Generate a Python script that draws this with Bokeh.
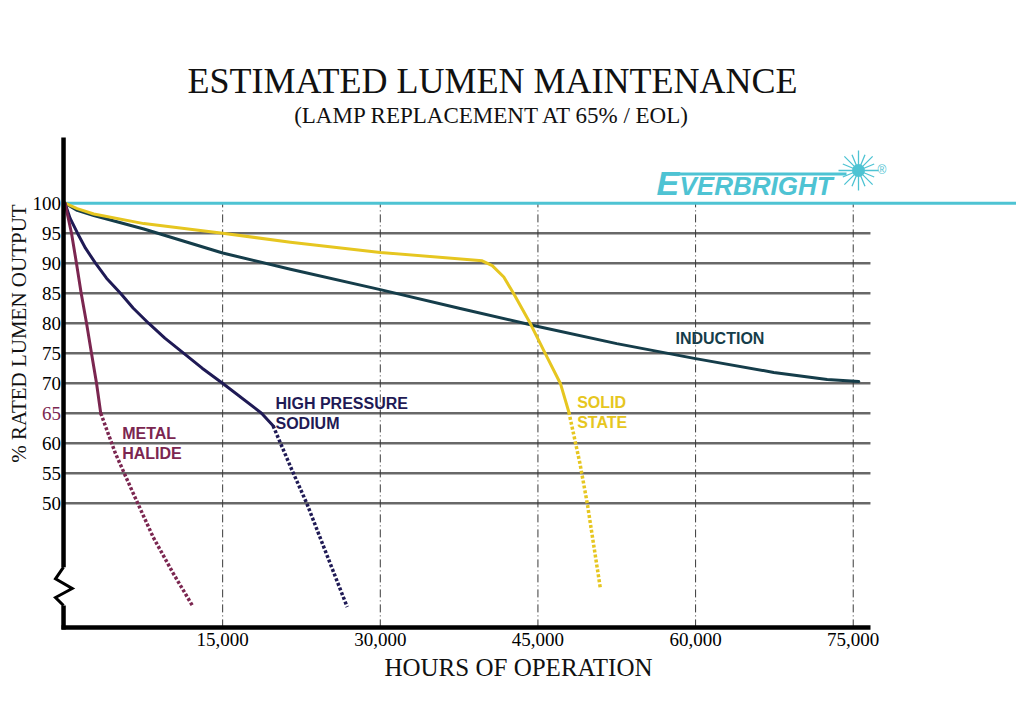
import math
from bokeh.plotting import figure
from bokeh.models import (LinearAxis, FixedTicker, NumeralTickFormatter, Label,
                          Range1d, Grid)
from bokeh.embed import file_html
from bokeh.resources import INLINE

# ---------------- data ----------------
x_ticks = [15000, 30000, 45000, 60000, 75000]
y_ticks = [50, 55, 60, 70, 75, 80, 85, 90, 95, 100]
y_tick_replace = [65]
grid_levels = [50, 55, 60, 65, 70, 75, 80, 85, 90, 95]
reference_pct = 100

mh_hours = [0, 620, 1090, 1540, 2050, 2520, 3000, 3400]
mh_pct = [100, 95, 90, 85, 80, 75, 70, 65]
mh_eol_hours = [3400, 4800, 6500, 8400, 10300, 12100]
mh_eol_pct = [65, 58.3, 51.6, 44.3, 38.3, 33.0]

hps_hours = [0, 480, 1190, 1950, 2900, 3950, 5280, 6500, 7950, 9500, 11280,
             13050, 14990, 18700, 19800]
hps_pct = [100, 97.5, 95, 92.5, 90, 87.5, 85, 82.5, 80, 77.5, 75,
           72.5, 70, 65, 62.9]
hps_eol_hours = [19800, 21600, 23000, 25000, 26850]
hps_eol_pct = [62.9, 55.5, 50, 41, 32.7]

ss_hours = [0, 1160, 2740, 7500, 15000, 21450, 30000, 39700, 40650, 41750,
            42700, 44290, 45880, 47150, 47940]
ss_pct = [100, 99.1, 98.2, 96.6, 95, 93.5, 91.8, 90.4, 89.6, 87.7,
          84.9, 79.9, 74.3, 69.9, 65.2]
ss_eol_hours = [47940, 49000, 49700, 50950]
ss_eol_pct = [65.2, 56.6, 49.9, 35.7]

ind_hours = [0, 1160, 2740, 7500, 15000, 21450, 30000, 37500, 45000, 52500,
             60000, 67440, 72520, 75530]
ind_pct = [100, 98.8, 97.95, 95.7, 91.7, 89.0, 85.6, 82.5, 79.45, 76.6,
           74.1, 71.8, 70.6, 70.3]

# ---------------- layout / styles ----------------
CYAN = "#4EC3D3"
YELLOW = "#E6C620"
TEAL = "#153D4A"
NAVY = "#1F1A55"
MAROON = "#7B2650"
GRID = "#686868"
SERIF = "Liberation Serif"
SANS = "Liberation Sans"

W, H = 1016, 701
ORIGIN_PX = 64.5          # pixel column of 0 hours
HR_PER_PX = 95.15
Y100_PX = 202.7           # pixel row of 100 %
PX_PER_PCT = 6.0

def dx(px):
    return (px - ORIGIN_PX) * HR_PER_PX

def dy(py):
    return 100 - (py - Y100_PX) / PX_PER_PCT

X_START, X_END = dx(0), dx(W)
Y_START, Y_END = dy(H), dy(0)
AXIS_Y = 29.3
AXIS_X_END = 76640
Y_AXIS_TOP = 110.95
BREAK_LO, BREAK_HI = 32.95, 39.33
Y_AXIS_X = -140

p = figure(width=W, height=H, x_range=Range1d(X_START, X_END),
           y_range=Range1d(Y_START, Y_END), x_axis_location=None,
           y_axis_location=None, toolbar_location=None, output_backend="svg",
           min_border=0, outline_line_color=None)
for r in list(p.center):
    if isinstance(r, Grid):
        r.visible = False

# horizontal grid
p.segment(x0=[0] * len(grid_levels), y0=grid_levels,
          x1=[AXIS_X_END] * len(grid_levels), y1=grid_levels,
          line_color=GRID, line_width=2.5)
# vertical dash-dot lines
p.segment(x0=x_ticks, y0=[AXIS_Y] * len(x_ticks), x1=x_ticks,
          y1=[reference_pct] * len(x_ticks), line_color="#3a3a3a",
          line_width=1, line_dash="8 3 1 3")
# 100 % reference line
p.line(x=[0, X_END], y=[reference_pct, reference_pct], line_color=CYAN, line_width=3)

# series
lw = 3
kw = dict(line_width=lw, line_join="round", line_cap="round")
dkw = dict(line_width=3.5, line_dash="3 2")
p.line(ind_hours, ind_pct, line_color=TEAL, **kw)
p.line(ss_hours, ss_pct, line_color=YELLOW, **kw)
p.line(ss_eol_hours, ss_eol_pct, line_color=YELLOW, **dkw)
p.line(hps_hours, hps_pct, line_color=NAVY, **kw)
p.line(hps_eol_hours, hps_eol_pct, line_color=NAVY, **dkw)
p.line(mh_hours, mh_pct, line_color=MAROON, **kw)
p.line(mh_eol_hours, mh_eol_pct, line_color=MAROON, **dkw)

# y axis line with break + zigzag
p.segment(x0=[Y_AXIS_X, Y_AXIS_X], y0=[AXIS_Y - 0.35, BREAK_HI],
          x1=[Y_AXIS_X, Y_AXIS_X], y1=[BREAK_LO, Y_AXIS_TOP],
          line_color="black", line_width=4.5)
p.line(x=[Y_AXIS_X, dx(55), dx(71.7), dx(55), Y_AXIS_X],
       y=[BREAK_HI, dy(578.3), dy(588), dy(597), BREAK_LO],
       line_color="black", line_width=3, line_join="miter")

# axes
xaxis = LinearAxis(ticker=FixedTicker(ticks=x_ticks),
                   formatter=NumeralTickFormatter(format="0,0"),
                   fixed_location=AXIS_Y, bounds=(dx(61), AXIS_X_END))
xaxis.axis_line_width = 4.5
xaxis.axis_line_color = "black"
xaxis.major_tick_out = 0
xaxis.major_tick_in = 0
xaxis.minor_tick_out = 0
xaxis.minor_tick_in = 0
xaxis.major_label_standoff = 6
xaxis.major_label_text_font = SERIF
xaxis.major_label_text_font_size = "19px"
xaxis.major_label_text_color = "black"
p.add_layout(xaxis, "below")

def make_yaxis(ticks, color):
    ax = LinearAxis(ticker=FixedTicker(ticks=ticks), fixed_location=0)
    ax.axis_line_color = None
    ax.major_tick_out = 0
    ax.major_tick_in = 0
    ax.minor_tick_out = 0
    ax.minor_tick_in = 0
    ax.major_label_standoff = 4
    ax.major_label_text_font = SERIF
    ax.major_label_text_font_size = "19px"
    ax.major_label_text_color = color
    return ax

p.add_layout(make_yaxis(y_ticks, "black"), "left")
p.add_layout(make_yaxis(y_tick_replace, MAROON), "left")

def lab(px, base_py, text, size, color, font=SANS, style="bold", align="left",
        baseline="alphabetic", angle=0, shift=True):
    # shift compensates the renderer's vertical placement of the text
    py = base_py - (0.37 * size if shift else 0)
    p.add_layout(Label(x=dx(px), y=dy(py), text=text, text_font=font,
                       text_font_size=f"{size}px", text_color=color,
                       text_font_style=style, text_align=align,
                       text_baseline=baseline, angle=angle))

# titles
lab(492, 94, "ESTIMATED LUMEN MAINTENANCE", 36, "#111111", font=SERIF,
    style="normal", align="center")
lab(492, 124, "(LAMP REPLACEMENT AT 65% / EOL)", 23, "#111111", font=SERIF,
    style="normal", align="center")
lab(518, 676, "HOURS OF OPERATION", 25, "#111111", font=SERIF,
    style="normal", align="center")
lab(18, 333, "% RATED LUMEN OUTPUT", 21, "#111111", font=SERIF,
    style="normal", align="center", baseline="middle", angle=math.pi / 2,
    shift=False)

# series labels
lab(121.7, 439.3, "METAL", 16, MAROON)
lab(121.7, 459.3, "HALIDE", 16, MAROON)
lab(275, 409.3, "HIGH PRESSURE", 16, NAVY)
lab(275, 429.3, "SODIUM", 16, NAVY)
lab(576.7, 408.3, "SOLID", 16, YELLOW)
lab(576.7, 428.3, "STATE", 16, YELLOW)
lab(675, 344.3, "INDUCTION", 16, TEAL)

# logo
lab(656, 195, "E", 34, CYAN, style="bold italic")
lab(679, 195, "VERBRIGHT", 26, CYAN, style="bold italic")
p.line(x=[dx(668), dx(846)], y=[dy(173.5), dy(173.5)], line_color=CYAN, line_width=3)
p.scatter(x=[dx(858)], y=[dy(170)], marker="asterisk", size=40, line_color=CYAN,
          line_width=1.3)
p.scatter(x=[dx(858)], y=[dy(170)], marker="asterisk", size=34, line_color=CYAN,
          line_width=1.3, angle=math.pi / 8)
p.scatter(x=[dx(858)], y=[dy(170)], marker="circle", size=13, fill_color=CYAN,
          line_color=None)
lab(877, 174, "®", 12, CYAN, style="normal")

open("out.html", "w").write(file_html(p, INLINE))
